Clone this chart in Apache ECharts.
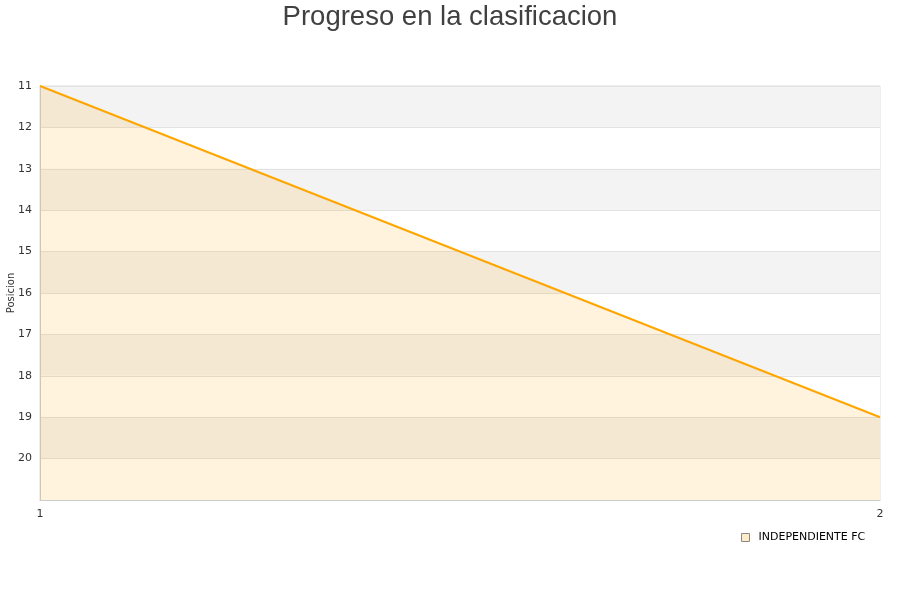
<!DOCTYPE html>
<html>
<head>
<meta charset="utf-8">
<script src="https://cdn.jsdelivr.net/npm/echarts@6/dist/echarts.min.js"></script>
<style>
html, body { margin: 0; padding: 0; background: #fff; }
#chart { width: 900px; height: 600px; }
</style>
</head>
<body>
<div id="chart"></div>
<script>
var jornadas = [1, 2];
var posiciones = [11, 19];
var equipo = 'INDEPENDIENTE FC';

var myChart = echarts.init(document.getElementById('chart'));

var datos = [];
for (var i = 0; i < jornadas.length; i++) {
	datos.push([jornadas[i], posiciones[i]]);
}

var option = {
	animation: false,
	textStyle: { fontFamily: 'DejaVu Sans' },
	title: {
		text: 'Progreso en la clasificacion',
		left: 'center',
		top: -2,
		textStyle: {
			color: '#404040',
			fontSize: 27.5,
			fontWeight: 'normal',
			fontFamily: 'Liberation Sans'
		}
	},
	legend: {
		data: [{
			name: equipo,
			icon: 'rect',
			itemStyle: { color: '#fdeccb', borderColor: '#888', borderWidth: 1 }
		}],
		left: 736,
		top: 527,
		itemWidth: 8,
		itemHeight: 8,
		itemGap: 6,
		textStyle: { color: '#000', fontSize: 11, padding: [0, 0, 0, 4] }
	},
	grid: {
		left: 40,
		right: 20,
		top: 86,
		bottom: 100,
		containLabel: false,
		outerBoundsMode: 'none',
		show: true,
		borderColor: '#dddddd',
		borderWidth: 1
	},
	xAxis: {
		type: 'value',
		min: 1,
		max: 2,
		interval: 1,
		axisLine: { show: true, lineStyle: { color: '#cccccc' } },
		axisTick: { show: false },
		splitLine: { show: false },
		axisLabel: { color: '#333', fontSize: 11, margin: 9 }
	},
	yAxis: {
		type: 'value',
		inverse: true,
		min: 11,
		max: 21,
		interval: 1,
		name: 'Posicion',
		nameLocation: 'middle',
		nameGap: 24,
		nameMoveOverlap: false,
		nameTextStyle: { color: '#333', fontSize: 10 },
		axisLine: { show: true, lineStyle: { color: '#cccccc' } },
		axisTick: { show: false },
		axisLabel: {
			color: '#333',
			fontSize: 11,
			margin: 8,
			formatter: function(v) { return v === 21 ? '' : v; }
		},
		splitLine: { show: true, lineStyle: { color: '#e2e2e2' } },
		splitArea: { show: true, areaStyle: { color: ['#f3f3f3', '#ffffff'] } }
	},
	series: [{
		name: equipo,
		type: 'line',
		data: datos,
		symbol: 'none',
		itemStyle: { color: '#fdeccb' },
		lineStyle: { color: '#ffa500', width: 2 },
		areaStyle: { color: 'rgba(255,165,0,0.19)', origin: 'end' }
	}]
};
myChart.setOption(option);
</script>
</body>
</html>
